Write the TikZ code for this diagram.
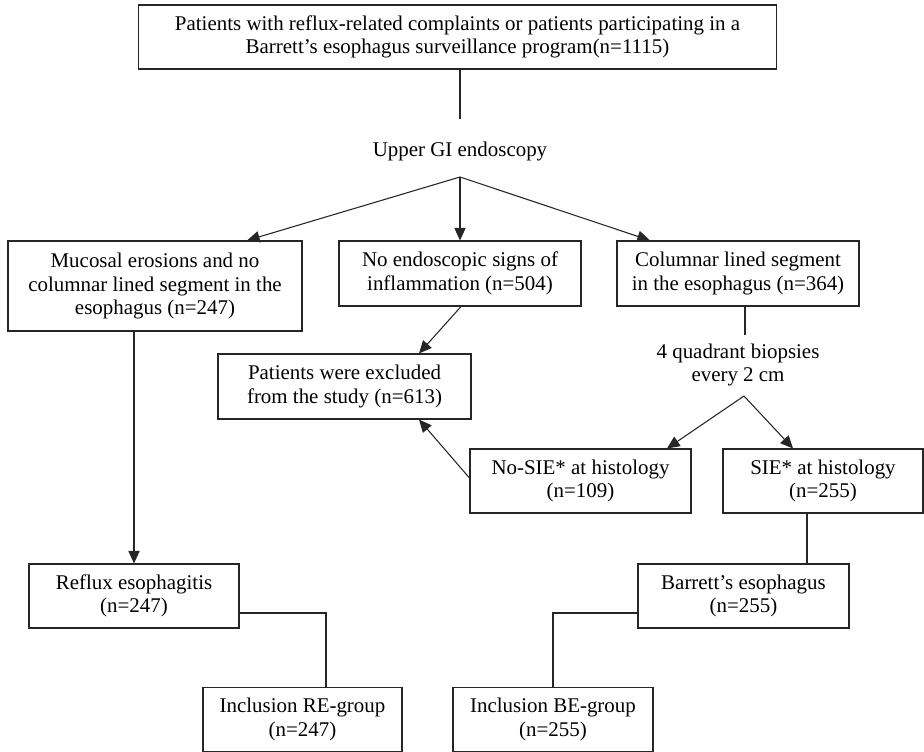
\documentclass[tikz,border=0pt]{standalone}
\usepackage{fontspec}
\setmainfont{Liberation Serif}
\usetikzlibrary{arrows.meta,calc}
\begin{document}
\begin{tikzpicture}[x=0.75pt,y=-0.75pt,
  box/.style={draw=black!85,line width=0.8pt,inner sep=0pt,align=center,
    font=\fontsize{15.7}{17.6}\selectfont,minimum height=48pt},
  lbl/.style={inner sep=0pt,align=center,font=\fontsize{15.7}{17.6}\selectfont},
  ln/.style={draw=black!85,line width=0.8pt},
  arr/.style={ln,-{Triangle[length=9.5pt,width=8.5pt]}}]
\useasboundingbox (0,0) rectangle (924,752);
% boxes
\node[box,minimum width=479pt] (top) at (457.5,37) {Patients with reflux-related complaints or patients participating in a\\Barrett’s esophagus surveillance program(n=1115)};
\node[lbl] (ugi) at (460,151) {Upper GI endoscopy};
\coordinate (apex) at (460,177);
\node[box,minimum width=220.5pt,minimum height=67.5pt] (left) at (155,286) {Mucosal erosions and no\\columnar lined segment in the\\esophagus (n=247)};
\node[box,minimum width=181.5pt,minimum height=48.75pt] (mid) at (460,273.5) {No endoscopic signs of\\inflammation (n=504)};
\node[box,minimum width=181.5pt,minimum height=48.75pt] (right) at (738,273.5) {Columnar lined segment\\in the esophagus (n=364)};
\node[box,minimum width=189.75pt,minimum height=48.75pt] (excl) at (344.5,386.5) {Patients were excluded\\from the study (n=613)};
\node[lbl] (quad) at (738,365) {4 quadrant biopsies\\every 2 cm};
\coordinate (apex2) at (744,396);
\coordinate (q1) at (745,335);
\node[box,minimum width=165.75pt] (nosie) at (580.5,481) {No-SIE* at histology\\(n=109)};
\node[box,minimum width=150pt] (sie) at (823,481) {SIE* at histology\\(n=255)};
\node[box,minimum width=157.5pt] (reflux) at (134,596) {Reflux esophagitis\\(n=247)};
\node[box,minimum width=158.25pt] (barrett) at (743.5,596) {Barrett’s esophagus\\(n=255)};
\node[box,minimum width=149.25pt] (incre) at (302.5,719.5) {Inclusion RE-group\\(n=247)};
\node[box,minimum width=150pt] (incbe) at (553,719.5) {Inclusion BE-group\\(n=255)};
% connectors
\draw[ln] (top.south -| apex) -- ($(ugi.north)+(0,-22)$);
\draw[arr] (apex) -- ($(left.north)+(92,0)$);
\draw[arr] (apex) -- (mid.north);
\draw[arr] (apex) -- ($(right.north)+(-88,0)$);
\draw[arr] ($(mid.south)+(1,0)$) -- ($(excl.north)+(74.5,0)$);
\draw[arr] ($(nosie.west)+(0,-3)$) -- ($(excl.south)+(74.5,0)$);
\draw[arr] ($(left.south)+(-21,0)$) -- (reflux.north);
\draw[ln] ($(right.south)+(7,0)$) -- (q1);
\draw[arr] (apex2) -- ($(nosie.north)+(86.5,0)$);
\draw[arr] (apex2) -- ($(sie.north)+(-30,0)$);
\draw[ln] ($(sie.south)+(-16,0)$) coordinate (s1) -- (s1 |- barrett.north);
\draw[ln] ($(reflux.east)+(0,17)$) -| ($(incre.north)+(23.5,0)$);
\draw[ln] ($(barrett.west)+(0,17)$) -| (incbe.north);
\end{tikzpicture}
\end{document}
